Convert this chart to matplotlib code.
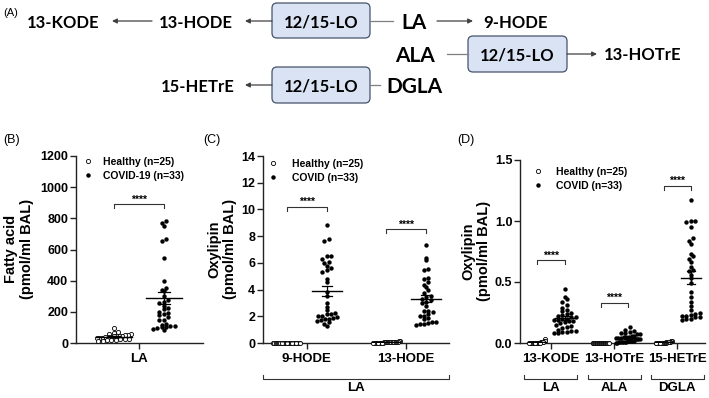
import numpy as np
import matplotlib
matplotlib.use('Agg')
import matplotlib.pyplot as plt
import matplotlib.transforms as mtransforms
from matplotlib.patches import FancyBboxPatch
from matplotlib.lines import Line2D

plt.rcParams['font.family'] = 'Liberation Sans'

W, H = 709, 398

# ---- data ----
# (B) fatty acid, pmol/ml BAL
la_healthy = [97, 68, 62, 58, 55, 52, 50, 48, 46, 44, 42, 40, 38, 36, 35, 33,
              30, 28, 26, 24, 22, 20, 18, 15, 12]
la_covid = [782, 768, 750, 670, 655, 546, 396, 350, 340, 335, 300, 275, 262, 255,
            240, 222, 215, 200, 192, 185, 178, 165, 150, 145, 125, 118, 112, 108,
            103, 100, 95, 90, 82]

# (C) oxylipins from LA
c_labels = ['9-HODE', '13-HODE']
hode9_healthy = [0.02, 0.01, 0.02, 0.01, 0.02, 0.03, 0.01, 0.02, 0.01, 0.02, 0.02,
                 0.01, 0.03, 0.02, 0.01, 0.02, 0.01, 0.02, 0.02, 0.01, 0.03, 0.02,
                 0.01, 0.02, 0.01]
hode9_covid = [8.85, 7.8, 7.6, 6.5, 6.5, 6.3, 6.1, 6.0, 5.8, 5.6, 5.5, 5.3, 4.8,
               4.6, 3.8, 3.5, 3.0, 2.7, 2.5, 2.25, 2.2, 2.15, 2.0, 2.0, 1.95, 1.9,
               1.8, 1.8, 1.75, 1.65, 1.6, 1.45, 1.3]
hode13_healthy = [0.15, 0.12, 0.1, 0.09, 0.08, 0.08, 0.07, 0.06, 0.06, 0.05, 0.05,
                  0.05, 0.04, 0.04, 0.04, 0.03, 0.03, 0.03, 0.03, 0.02, 0.02, 0.02,
                  0.02, 0.01, 0.01]
hode13_covid = [7.35, 6.4, 6.25, 5.55, 5.5, 4.85, 4.8, 4.6, 4.35, 4.2, 3.95, 3.75,
                3.5, 3.45, 3.2, 3.3, 3.1, 3.0, 2.8, 2.4, 2.4, 2.3, 2.0, 2.2, 1.8,
                2.0, 1.9, 1.6, 1.55, 1.5, 1.45, 1.4, 1.35]

# (D) oxylipins from LA / ALA / DGLA
d_labels = ['13-KODE', '13-HOTrE', '15-HETrE']
d_groups = ['LA', 'ALA', 'DGLA']
kode13_healthy = [0.03, 0.02, 0.02, 0.01, 0.01, 0.01, 0.01, 0.01, 0.0, 0.0, 0.0,
                  0.0, 0.0, 0.0, 0.0, 0.0, 0.0, 0.0, 0.0, 0.0, 0.0, 0.0, 0.0, 0.0, 0.0]
kode13_covid = [0.44, 0.38, 0.36, 0.34, 0.31, 0.29, 0.27, 0.26, 0.25, 0.24, 0.23,
                0.22, 0.21, 0.21, 0.20, 0.20, 0.19, 0.19, 0.18, 0.18, 0.17, 0.16,
                0.15, 0.14, 0.13, 0.12, 0.11, 0.10, 0.10, 0.09, 0.09, 0.08, 0.08]
hotre13_healthy = [0.0] * 25
hotre13_covid = [0.13, 0.11, 0.10, 0.09, 0.08, 0.08, 0.07, 0.07, 0.06, 0.06, 0.05,
                 0.05, 0.05, 0.04, 0.04, 0.04, 0.03, 0.03, 0.03, 0.03, 0.02, 0.02,
                 0.02, 0.02, 0.02, 0.01, 0.01, 0.01, 0.01, 0.01, 0.01, 0.0, 0.0]
hetre15_healthy = [0.02, 0.02, 0.01, 0.01, 0.01, 0.01, 0.01, 0.01, 0.01, 0.0, 0.0,
                   0.0, 0.0, 0.0, 0.0, 0.0, 0.0, 0.0, 0.0, 0.0, 0.0, 0.0, 0.0, 0.0, 0.0]
hetre15_covid = [1.17, 1.0, 1.0, 0.99, 0.95, 0.86, 0.84, 0.81, 0.73, 0.71, 0.69,
                 0.66, 0.62, 0.60, 0.59, 0.56, 0.53, 0.49, 0.42, 0.38, 0.34, 0.30,
                 0.27, 0.25, 0.24, 0.23, 0.22, 0.22, 0.21, 0.21, 0.20, 0.20, 0.19]

fig = plt.figure(figsize=(7.09, 3.98), dpi=100)


def add_ax(left, right, top, bottom):
    return fig.add_axes([left / W, 1 - bottom / H, (right - left) / W, (bottom - top) / H])


# ---- (A) pathway diagram, in pixel coordinates ----
ax0 = fig.add_axes([0, 0, 1, 1])
ax0.set_xlim(0, W)
ax0.set_ylim(H, 0)
ax0.axis('off')

dfont = dict(family='Lato', weight='bold', ha='center', va='center_baseline')


def box(x0, x1, y0, y1):
    ax0.add_patch(FancyBboxPatch((x0, y0), x1 - x0, y1 - y0,
                                 boxstyle='round,pad=0,rounding_size=5',
                                 fc='#dae3f3', ec='#44546a', lw=0.9))
    ax0.text((x0 + x1) / 2, (y0 + y1) / 2, '12/15-LO', fontsize=12, **dfont)


def arrow(x0, x1, y):
    ax0.annotate('', xy=(x1, y), xytext=(x0, y),
                 arrowprops=dict(arrowstyle='-|>', color='#404040', lw=0.9,
                                 mutation_scale=7, shrinkA=0, shrinkB=0))


def link(x0, x1, y):
    ax0.plot([x0, x1], [y, y], color='#7f7f7f', lw=0.9)


ax0.text(3, 13, '(A)', fontsize=8, ha='left', va='center')
ax0.text(63, 21, '13-KODE', fontsize=12, **dfont)
arrow(152, 112, 21)
ax0.text(196, 21, '13-HODE', fontsize=12, **dfont)
arrow(272, 245, 21)
box(272, 370, 3, 38)
link(370, 393, 21)
ax0.text(414, 21, 'LA', fontsize=15, **dfont)
arrow(437, 473, 21)
ax0.text(516, 21, '9-HODE', fontsize=12, **dfont)

ax0.text(415, 54, 'ALA', fontsize=15, **dfont)
link(447, 468, 54)
box(468, 567, 36, 72)
arrow(567, 597, 54)
ax0.text(643, 54, '13-HOTrE', fontsize=12, **dfont)

ax0.text(198, 85, '15-HETrE', fontsize=12, **dfont)
arrow(272, 245, 85)
box(272, 370, 67, 103)
link(370, 380, 85)
ax0.text(414, 85, 'DGLA', fontsize=15, **dfont)

for lab, x in [('(B)', 3), ('(C)', 203), ('(D)', 457)]:
    ax0.text(x, 140, lab, fontsize=9, ha='left', va='center')


# ---- helpers for the scatter panels ----
def px_scale(ax):
    pos = ax.get_position()
    x0, x1 = ax.get_xlim()
    y0, y1 = ax.get_ylim()
    return pos.width * W / (x1 - x0), pos.height * H / (y1 - y0)


def swarm(ax, vals, center, width_px, filled, d=4.4):
    vals = np.asarray(vals, float)
    ppx, ppy = px_scale(ax)
    bins = np.floor(vals * ppy / d)
    xs = np.zeros_like(vals)
    for b in np.unique(bins):
        idx = np.where(bins == b)[0]
        idx = idx[np.argsort(vals[idx])]
        n = len(idx)
        step = d if n < 2 else min(d, width_px / (n - 1))
        xs[idx] = center + (np.arange(n) - (n - 1) / 2) * step / ppx
    if filled:
        ax.scatter(xs, vals, s=10, c='black', linewidths=0, zorder=3, clip_on=False)
    else:
        ax.scatter(xs, vals, s=9, facecolors='white', edgecolors='black',
                   linewidths=0.6, zorder=3, clip_on=False)


def mean_sem(ax, vals, center, half_px, cap_px):
    vals = np.asarray(vals, float)
    ppx, ppy = px_scale(ax)
    m = vals.mean()
    se = vals.std(ddof=1) / np.sqrt(len(vals))
    hw, cw = half_px / ppx, cap_px / ppx
    ax.plot([center - hw, center + hw], [m, m], color='black', lw=1, zorder=4)
    ax.plot([center, center], [m - se, m + se], color='black', lw=0.9, zorder=4)
    for v in (m - se, m + se):
        ax.plot([center - cw, center + cw], [v, v], color='black', lw=0.9, zorder=4)


def bracket(ax, x1, x2, y):
    ppx, ppy = px_scale(ax)
    dy = 4 / ppy
    ax.plot([x1, x1, x2, x2], [y - dy, y, y, y - dy], color='#333333', lw=0.8)
    ax.text((x1 + x2) / 2, y + 1.5 / ppy, '****', ha='center', va='baseline',
            fontsize=7.5, fontweight='bold')


def group_bracket(ax, x1, x2, label):
    pos = ax.get_position()
    hpx = pos.height * H
    tr = mtransforms.blended_transform_factory(ax.transData, ax.transAxes)
    yb, yt = -36 / hpx, -32 / hpx
    ax.plot([x1, x1, x2, x2], [yt, yb, yb, yt], color='#333333', lw=0.8,
            transform=tr, clip_on=False)
    ax.text((x1 + x2) / 2, -45 / hpx, label, transform=tr, ha='center',
            va='center', fontsize=9.5, fontweight='bold')


def style(ax):
    for s in ['top', 'right']:
        ax.spines[s].set_visible(False)
    for s in ['left', 'bottom']:
        ax.spines[s].set_linewidth(1.0)
        ax.spines[s].set_color('#222222')
    ax.tick_params(axis='both', length=4, width=1, color='#222222')
    ax.tick_params(axis='y', labelsize=9, pad=1.5)
    ax.tick_params(axis='x', labelsize=9.5, pad=3)
    for t in ax.get_xticklabels() + ax.get_yticklabels():
        t.set_fontweight('bold')


def legend(ax, x, y, pad, second):
    handles = [Line2D([], [], ls='none', marker='o', ms=3, mfc='white', mec='black', mew=0.6),
               Line2D([], [], ls='none', marker='o', ms=3.2, mfc='black', mec='black', mew=0)]
    ax.legend(handles, ['Healthy (n=25)', second], loc='upper left',
              bbox_to_anchor=(x / W, 1 - y / H), bbox_transform=fig.transFigure,
              frameon=False, borderpad=0, borderaxespad=0, handlelength=0.8,
              handletextpad=pad, labelspacing=0.35,
              prop=dict(family='Liberation Sans', weight='bold', size=7.5))


def ylabel(x, y, top_line):
    fig.text(x / W, 1 - y / H, top_line + '\n(pmol/ml BAL)', rotation=90,
             ha='center', va='center', multialignment='center',
             fontsize=10.5, fontweight='bold', linespacing=1.1)


# ---- (B) ----
axB = add_ax(76, 203, 156, 343)
axB.set_xlim(-1.25, 1.28)
axB.set_ylim(0, 1200)
axB.set_yticks(np.arange(0, 1201, 200))
axB.set_xticks([0])
axB.set_xticklabels(['LA'])
style(axB)
swarm(axB, la_healthy, -0.5, 34, False)
swarm(axB, la_covid, 0.5, 30, True)
mean_sem(axB, la_healthy, -0.5, 18, 6)
mean_sem(axB, la_covid, 0.5, 18, 6)
bracket(axB, -0.5, 0.5, 890)
legend(axB, 84, 157, 1.0, 'COVID-19 (n=33)')
ylabel(19, 249, 'Fatty acid')

# ---- (C) ----
axC = add_ax(263, 449, 156, 343)
axC.set_xlim(-0.44, 1.43)
axC.set_ylim(0, 14)
axC.set_yticks(np.arange(0, 15, 2))
axC.set_xticks(range(len(c_labels)))
axC.set_xticklabels(c_labels)
style(axC)
for i, (hv, cv) in enumerate([(hode9_healthy, hode9_covid), (hode13_healthy, hode13_covid)]):
    swarm(axC, hv, i - 0.2, 27, False)
    swarm(axC, cv, i + 0.2, 20, True)
    mean_sem(axC, hv, i - 0.2, 14, 5)
    mean_sem(axC, cv, i + 0.2, 15, 5)
bracket(axC, -0.2, 0.2, 10.2)
bracket(axC, 0.8, 1.2, 8.5)
group_bracket(axC, -0.44, 1.43, 'LA')
legend(axC, 269, 159, 1.4, 'COVID (n=33)')
ylabel(222, 249, 'Oxylipin')

# ---- (D) ----
axD = add_ax(520, 705, 160, 343)
axD.set_xlim(-0.49, 2.44)
axD.set_ylim(0, 1.5)
axD.set_yticks([0, 0.5, 1.0, 1.5])
axD.set_yticklabels(['0.0', '0.5', '1.0', '1.5'])
axD.set_xticks(range(len(d_labels)))
axD.set_xticklabels(d_labels)
style(axD)
d_data = [(kode13_healthy, kode13_covid), (hotre13_healthy, hotre13_covid),
          (hetre15_healthy, hetre15_covid)]
for i, (hv, cv) in enumerate(d_data):
    swarm(axD, hv, i - 0.215, 16, False)
    swarm(axD, cv, i + 0.215, 24, True)
    mean_sem(axD, hv, i - 0.215, 9, 4)
    mean_sem(axD, cv, i + 0.215, 10, 4)
for i, yb in enumerate([0.677, 0.33, 1.29]):
    bracket(axD, i - 0.215, i + 0.215, yb)
for i, g in enumerate(d_groups):
    group_bracket(axD, i - 0.42, i + 0.42, g)
legend(axD, 534, 167, 1.3, 'COVID (n=33)')
ylabel(476, 251, 'Oxylipin')

fig.savefig('out.png', dpi=100)
